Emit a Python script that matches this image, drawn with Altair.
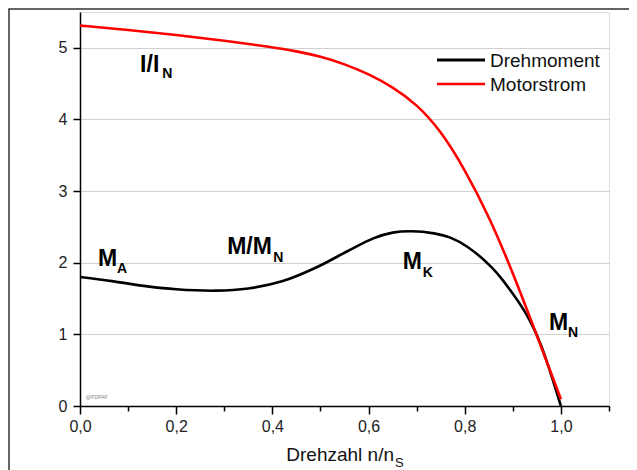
import altair as alt
import pandas as pd

# ---- data ----
n_moment = [0.0, 0.07, 0.14, 0.2, 0.28, 0.35, 0.42, 0.49, 0.556, 0.61, 0.65, 0.69,
            0.736, 0.77, 0.806, 0.854, 0.881, 0.93, 0.958, 0.979, 1.0]
moment = [1.80, 1.74, 1.67, 1.63, 1.61, 1.64, 1.74, 1.93, 2.16, 2.34, 2.42, 2.44,
          2.41, 2.35, 2.22, 1.95, 1.74, 1.26, 0.86, 0.45, 0.0]

n_strom = [0.0, 0.1, 0.2, 0.3, 0.4, 0.45, 0.5, 0.55, 0.6, 0.65, 0.7, 0.75, 0.8,
           0.85, 0.9, 0.95, 1.0]
strom = [5.31, 5.25, 5.18, 5.10, 5.01, 4.953, 4.88, 4.775, 4.635, 4.455, 4.215, 3.845,
         3.305, 2.655, 1.865, 0.985, 0.095]

series_names = ["Drehmoment", "Motorstrom"]
series_colors = ["#000000", "#ff0000"]

x_ticks = [0.0, 0.1, 0.2, 0.3, 0.4, 0.5, 0.6, 0.7, 0.8, 0.9, 1.0, 1.1]
y_ticks = [0.0, 0.5, 1.0, 1.5, 2.0, 2.5, 3.0, 3.5, 4.0, 4.5, 5.0, 5.5]

# annotation labels: main text, subscript, (n, value) of main, (n, value) of subscript
ann_main = ["I/I", "M", "M/M", "M", "M"]
ann_sub = ["N", "A", "N", "K", "N"]
ann_main_x = [0.125, 0.0375, 0.306, 0.671, 0.975]
ann_main_y = [4.66, 1.955, 2.12, 1.91, 1.06]
ann_sub_x = [0.171, 0.077, 0.402, 0.7125, 1.015]
ann_sub_y = [4.58, 1.86, 2.01, 1.80, 0.96]

FONT = "Liberation Sans"
W, H = 529, 394

df_m = pd.DataFrame({"n": n_moment, "v": moment, "serie": series_names[0]})
df_i = pd.DataFrame({"n": n_strom, "v": strom, "serie": series_names[1]})

ann_df = pd.DataFrame({"t": ann_main, "x": ann_main_x, "y": ann_main_y})
sub_df = pd.DataFrame({"t": ann_sub, "x": ann_sub_x, "y": ann_sub_y})

x_major = "abs(datum.value*10 - 2*round(datum.value*5)) < 0.01"
y_major = "abs(datum.value - round(datum.value)) < 0.01"

x_scale = alt.Scale(domain=[0, 1.1], nice=False, zero=False)
y_scale = alt.Scale(domain=[0, 5.5], nice=False, zero=False)
c_scale = alt.Scale(domain=series_names, range=series_colors)

x_axis = alt.Axis(
    values=x_ticks, title=None, grid=False,
    labelExpr=f"({x_major}) && datum.value < 1.05 ? replace(format(datum.value, '.1f'), '.', ',') : ''",
    tickSize={"condition": {"test": x_major, "value": 8}, "value": 5},
    tickColor="#000", tickWidth=1.5, domainColor="#000", domainWidth=1.5,
    labelFont=FONT, labelFontSize=16, labelColor="#222", labelPadding=4,
    labelFlush=False, labelOverlap=False,
)
y_axis = alt.Axis(
    values=y_ticks, title=None, grid=True,
    gridColor="#d0d0d0", gridWidth=1,
    gridOpacity={"condition": {"test": f"({y_major}) && datum.value > 0", "value": 1}, "value": 0},
    labelExpr=f"{y_major} ? format(datum.value, 'd') : ''",
    tickSize={"condition": {"test": y_major, "value": 7}, "value": 4},
    tickColor="#000", tickWidth=1.5, domainColor="#000", domainWidth=1.5,
    labelFont=FONT, labelFontSize=16, labelColor="#222", labelPadding=6,
    labelFlush=False, labelOverlap=False,
)

line_m = alt.Chart(df_m).mark_line(strokeWidth=2.6, interpolate="catmull-rom", strokeJoin="round").encode(
    x=alt.X("n:Q", scale=x_scale, axis=x_axis),
    y=alt.Y("v:Q", scale=y_scale, axis=y_axis),
    color=alt.Color("serie:N", scale=c_scale, legend=None),
)
line_i = alt.Chart(df_i).mark_line(strokeWidth=2.6, interpolate="basis", strokeJoin="round").encode(
    x=alt.X("n:Q", scale=x_scale),
    y=alt.Y("v:Q", scale=y_scale),
    color=alt.Color("serie:N", scale=c_scale, legend=None),
)

# legend drawn by hand (line sample + label) in the top right corner
legend_layers = []
for i, (name, col) in enumerate(zip(series_names, series_colors)):
    yy = 48 + 24 * i
    legend_layers.append(
        alt.Chart(pd.DataFrame({"serie": [name]})).mark_rule(
            color=col, strokeWidth=3 if i == 0 else 2.4
        ).encode(x=alt.value(357), x2=alt.value(405), y=alt.value(yy))
    )
    legend_layers.append(
        alt.Chart(pd.DataFrame({"serie": [name]})).mark_text(
            font=FONT, fontSize=19, align="left", baseline="middle", color="#111"
        ).encode(x=alt.value(410), y=alt.value(yy + 1), text="serie:N")
    )

main_txt = alt.Chart(ann_df).mark_text(
    font=FONT, fontSize=23, fontWeight="bold", align="left", baseline="alphabetic", color="#000"
).encode(x=alt.X("x:Q", scale=x_scale), y=alt.Y("y:Q", scale=y_scale), text="t:N")

sub_txt = alt.Chart(sub_df).mark_text(
    font=FONT, fontSize=14, fontWeight="bold", align="left", baseline="alphabetic", color="#000"
).encode(x=alt.X("x:Q", scale=x_scale), y=alt.Y("y:Q", scale=y_scale), text="t:N")

xtitle = alt.Chart(pd.DataFrame({"t": ["Drehzahl n/n"]})).mark_text(
    font=FONT, fontSize=19, align="right", baseline="alphabetic", color="#111"
).encode(x=alt.value(314), y=alt.value(449), text="t:N")
xtitle_sub = alt.Chart(pd.DataFrame({"t": ["S"]})).mark_text(
    font=FONT, fontSize=13, align="left", baseline="alphabetic", color="#111"
).encode(x=alt.value(315), y=alt.value(455), text="t:N")

watermark = alt.Chart(pd.DataFrame({"t": ["@PDPAP"]})).mark_text(
    font=FONT, fontSize=5, align="left", baseline="alphabetic", color="#888"
).encode(x=alt.value(6), y=alt.value(387), text="t:N")

frame = alt.Chart(pd.DataFrame({"a": [0]})).mark_rect(
    fill=None, stroke="#333", strokeWidth=1.5
).encode(x=alt.value(-71), x2=alt.value(W + 200), y=alt.value(-3), y2=alt.value(H + 200))

chart = alt.layer(frame, line_m, line_i, main_txt, sub_txt, xtitle, xtitle_sub, watermark,
                  *legend_layers).properties(
    width=W, height=H,
    autosize=alt.AutoSizeParams(type="none"),
    padding={"left": 72, "top": 4, "right": 20, "bottom": 64},
).configure_view(stroke=None).configure(background="white")

chart.save("out.html", embed_options={"renderer": "svg", "actions": False})
